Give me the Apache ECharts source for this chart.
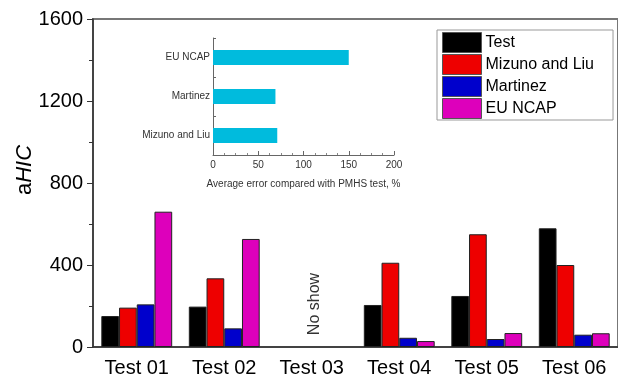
<!DOCTYPE html>
<html><head><meta charset="utf-8">
<script src="https://cdn.jsdelivr.net/npm/echarts@6/dist/echarts.min.js"></script>
<style>html,body{margin:0;padding:0;background:#fff}#c{width:618px;height:382px}</style>
</head><body><div id="c"></div>
<script>
const categories = ['Test 01','Test 02','Test 03','Test 04','Test 05','Test 06'];
const seriesNames = ['Test','Mizuno and Liu','Martinez','EU NCAP'];
const testVals     = [151, 197, null, 205, 249, 579];
const mizunoVals   = [192, 335, null, 411, 550, 400];
const martinezVals = [208,  91, null,  45,  39,  60];
const euncapVals   = [660, 527, null,  29,  68,  67];
const yTicks = [0, 400, 800, 1200, 1600];
const insetCats = ['Mizuno and Liu','Martinez','EU NCAP'];
const insetVals = [71, 69, 150];
const insetTicks = [0, 50, 100, 150, 200];

const colors = ['#000000','#ee0000','#0000cc','#dd00bb'];
const FONT = 'Liberation Sans, Arial, sans-serif';
const chart = echarts.init(document.getElementById('c'));
const mainData = [testVals, mizunoVals, martinezVals, euncapVals];
chart.setOption({
  animation: false,
  textStyle: {fontFamily: FONT},
  grid: [
    {left: 93, top: 19, width: 532, height: 328, show: true, borderColor: '#777', borderWidth: 2},
    {left: 213, top: 38, width: 181, height: 117}
  ],
  legend: {
    orient: 'vertical', left: 437, top: 30, data: seriesNames,
    itemWidth: 39, itemHeight: 20, itemGap: 1, icon: 'rect',
    backgroundColor: '#fff', borderColor: '#999', borderWidth: 1,
    padding: [2, 19, 1, 5],
    itemStyle: {borderColor: '#555', borderWidth: 1},
    textStyle: {fontSize: 16, lineHeight: 20, color: '#000', fontFamily: FONT, padding: [0,0,0,-1]}
  },
  xAxis: [
    {gridIndex: 0, type: 'category', data: categories,
     axisLine: {lineStyle: {color: '#333', width: 1.5}},
     axisTick: {alignWithLabel: true, length: 6, lineStyle: {color: '#333'}},
     axisLabel: {fontSize: 20, color: '#000', margin: 11, fontFamily: FONT}},
    {gridIndex: 1, type: 'value', min: insetTicks[0], max: insetTicks[insetTicks.length-1], interval: 50,
     splitLine: {show: false},
     axisLine: {show: true, lineStyle: {color: '#666'}},
     axisTick: {show: true, inside: true, length: 4, lineStyle: {color: '#666'}},
     minorTick: {show: true, splitNumber: 4, length: 2, lineStyle: {color: '#888'}},
     axisLabel: {fontSize: 10, color: '#333', margin: 5, fontFamily: FONT},
     name: 'Average error compared with PMHS test, %', nameLocation: 'middle', nameGap: 24,
     nameTextStyle: {fontSize: 10, color: '#333', fontFamily: FONT}}
  ],
  yAxis: [
    {gridIndex: 0, type: 'value', min: yTicks[0], max: yTicks[yTicks.length-1], interval: 400,
     splitLine: {show: false},
     axisLine: {show: true, lineStyle: {color: '#333', width: 1.5}},
     axisTick: {show: true, length: 6, lineStyle: {color: '#333'}},
     minorTick: {show: true, splitNumber: 2, length: 4, lineStyle: {color: '#333'}},
     axisLabel: {fontSize: 20, color: '#000', margin: 10, fontFamily: FONT, formatter: v => String(v)}},
    {gridIndex: 1, type: 'category', data: insetCats,
     axisLine: {show: true, lineStyle: {color: '#666'}},
     axisTick: {show: true, inside: true, length: 3, lineStyle: {color: '#666'}},
     axisLabel: {fontSize: 10, color: '#333', margin: 3, fontFamily: FONT}}
  ],
  series: seriesNames.map((n, i) => ({
    name: n, type: 'bar', xAxisIndex: 0, yAxisIndex: 0, data: mainData[i],
    barGap: '0%', barCategoryGap: '19%',
    itemStyle: {color: colors[i], borderColor: '#222', borderWidth: 1}
  })).concat([{
    name: 'inset', type: 'bar', xAxisIndex: 1, yAxisIndex: 1, data: insetVals,
    barWidth: 15, itemStyle: {color: '#00bbdd'}
  }]),
  graphic: [
    {type: 'text', x: 25, y: 170, rotation: Math.PI/2,
     style: {text: '{a|a}{b|HIC}', align: 'center', verticalAlign: 'middle', fontStyle: 'normal', fontSize: 22, fontFamily: FONT,
       rich: {a: {fontSize: 22, fontStyle: 'normal', fontFamily: FONT, fill: '#000'}, b: {fontSize: 22, fontStyle: 'italic', fontFamily: FONT, fill: '#000'}}}},
    {type: 'text', x: 315, y: 304, rotation: Math.PI/2,
     style: {text: 'No show', align: 'center', verticalAlign: 'middle', fontSize: 16, fontFamily: FONT, fill: '#333'}}
  ]
});
</script></body></html>
